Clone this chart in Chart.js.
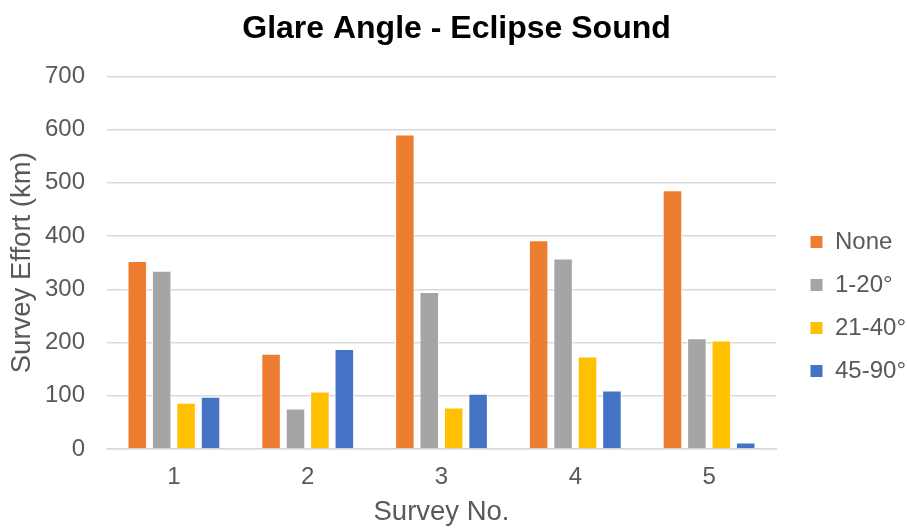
<!DOCTYPE html>
<html>
<head>
<meta charset="utf-8">
<script src="https://cdn.jsdelivr.net/npm/chart.js@4"></script>
<style>
  html, body { margin: 0; padding: 0; background: #fff; }
  #wrap { width: 907px; height: 529px; }
</style>
</head>
<body>
<div id="wrap"><canvas id="myChart"></canvas></div>
<script>
// Data
const surveys = ['1', '2', '3', '4', '5'];
const noneGlare = [353, 179, 591, 392, 486];
const glare1to20 = [335, 76, 295, 358, 208];
const glare21to40 = [87, 108, 78, 174, 204];
const glare45to90 = [98, 188, 104, 110, 12];
const yTicks = [0, 100, 200, 300, 400, 500, 600, 700];

const grey = '#595959';
const font = 'Liberation Sans, Arial, sans-serif';

function series(label, data, color) {
  return {
    label: label,
    data: data,
    backgroundColor: color,
    borderColor: '#ffffff',
    borderWidth: 1,
    categoryPercentage: 0.73,
    barPercentage: 0.8
  };
}

const ctx = document.getElementById('myChart');

new Chart(ctx, {
  type: 'bar',
  data: {
    labels: surveys,
    datasets: [
      series('None', noneGlare, '#ed7d31'),
      series('1-20°', glare1to20, '#a5a5a5'),
      series('21-40°', glare21to40, '#ffc000'),
      series('45-90°', glare45to90, '#4472c4')
    ]
  },
  options: {
    responsive: true,
    maintainAspectRatio: false,
    animation: false,
    layout: { padding: { left: 6, right: 0, top: 0, bottom: 0 } },
    scales: {
      x: {
        afterFit: axis => { axis.height = 80; },
        grid: { display: false, drawTicks: false },
        border: { color: '#d9d9d9', width: 1.5 },
        ticks: { color: grey, font: { family: font, size: 24 }, padding: 14 },
        title: { display: true, text: 'Survey No.', color: grey, font: { family: font, size: 27.5 }, padding: { top: 4, bottom: 0 } }
      },
      y: {
        min: 0,
        max: 700,
        afterBuildTicks: axis => { axis.ticks = yTicks.map(v => ({ value: v })); },
        afterFit: axis => { axis.width = 101; },
        grid: { color: '#d9d9d9', lineWidth: 1.5, drawTicks: false },
        border: { display: false },
        ticks: { color: grey, font: { family: font, size: 24 }, padding: 22 },
        title: { display: true, text: 'Survey Effort (km)', color: grey, font: { family: font, size: 27.5 }, padding: { top: 0, bottom: 6 } }
      },
      // empty right axis, only keeps a gap between plot and legend
      gap: {
        type: 'linear',
        position: 'right',
        grid: { display: false },
        border: { display: false },
        ticks: { display: false },
        afterFit: axis => { axis.width = 15; }
      }
    },
    plugins: {
      title: {
        display: true,
        text: 'Glare Angle - Eclipse Sound',
        color: '#000',
        font: { family: font, size: 32, weight: 'bold' },
        padding: { top: 10, bottom: 28 }
      },
      legend: {
        position: 'right',
        maxWidth: 116,
        title: { display: true, text: ' ', font: { size: 10 }, padding: { top: 72, bottom: 0 } },
        labels: {
          color: grey,
          font: { family: font, size: 24 },
          boxWidth: 13,
          boxHeight: 13,
          padding: 19
        }
      },
      tooltip: { enabled: false }
    }
  }
});
</script>
</body>
</html>
